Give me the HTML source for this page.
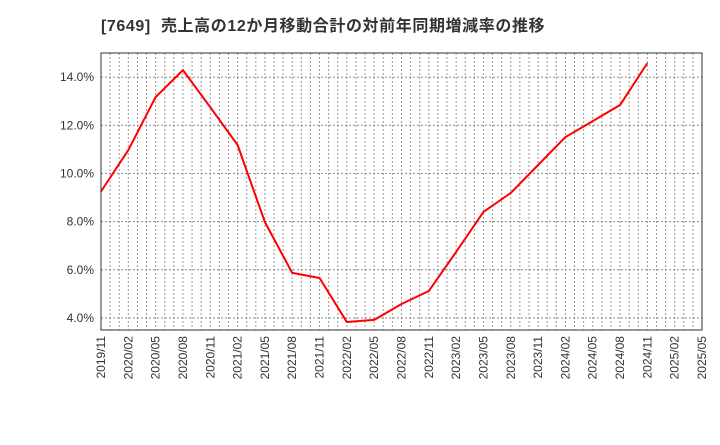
<!DOCTYPE html>
<html><head><meta charset="utf-8"><style>
body{margin:0;background:#fff;}
svg text{font-family:"Liberation Sans","Noto Sans CJK JP",sans-serif;}
</style></head><body>
<svg id="chart" width="720" height="440" xmlns="http://www.w3.org/2000/svg">
<text x="101" y="31" font-size="16" font-weight="bold" fill="#333" letter-spacing="0.6" xml:space="preserve">[7649]  売上高の12か月移動合計の対前年同期増減率の推移</text>
<g id="grid"></g>
<g id="yaxis"></g>
<g id="xaxis"></g>
<g id="series"></g>
<rect x="101" y="53" width="601" height="277" fill="none" stroke="#333" stroke-width="1"/>
</svg>
<script>
const xLabels=["2019/11","2020/02","2020/05","2020/08","2020/11","2021/02","2021/05","2021/08","2021/11","2022/02","2022/05","2022/08","2022/11","2023/02","2023/05","2023/08","2023/11","2024/02","2024/05","2024/08","2024/11","2025/02","2025/05"];
const values=[9.25,10.97,13.17,14.29,12.75,11.18,7.98,5.87,5.66,3.83,3.92,4.58,5.12,6.74,8.4,9.19,10.35,11.51,12.17,12.84,14.58];
const yTicks=[4,6,8,10,12,14];
const yTickLabels=["4.0%","6.0%","8.0%","10.0%","12.0%","14.0%"];
const L=101,R=702,T=53,B=330,yMin=3.5,yMax=15;
const months=(xLabels.length-1)*3;
const xm=m=>L+(R-L)*m/months;
const xq=i=>xm(i*3);
const y=v=>B-(B-T)*(v-yMin)/(yMax-yMin);
const NS="http://www.w3.org/2000/svg";
function mk(tag,attrs,parent){const e=document.createElementNS(NS,tag);for(const k in attrs)e.setAttribute(k,attrs[k]);parent.appendChild(e);return e;}
const grid=document.getElementById('grid'),ya=document.getElementById('yaxis'),xa=document.getElementById('xaxis'),se=document.getElementById('series');
for(let m=1;m<months;m++){const l=mk('line',{x1:xm(m),x2:xm(m),y1:T,y2:B,stroke:'#999','stroke-dasharray':'2,2','stroke-width':1},grid);

}
yTicks.forEach((v,i)=>{const l=mk('line',{x1:L,x2:R,y1:y(v),y2:y(v),stroke:'#888','stroke-dasharray':'2,2','stroke-width':1},grid);


const t=mk('text',{x:L-7,y:y(v)+4,'text-anchor':'end','font-size':12,fill:'#333'},ya);t.textContent=yTickLabels[i];

});
xLabels.forEach((s,i)=>{const t=mk('text',{x:0,y:0,'text-anchor':'end','font-size':12,fill:'#333',transform:`translate(${xq(i)+4},336) rotate(-90)`},xa);t.textContent=s;

});
const p=mk('polyline',{points:values.map((v,i)=>xq(i)+','+y(v)).join(' '),fill:'none',stroke:'#f00','stroke-width':2,'stroke-linejoin':'round'},se);


</script>
</body></html>
